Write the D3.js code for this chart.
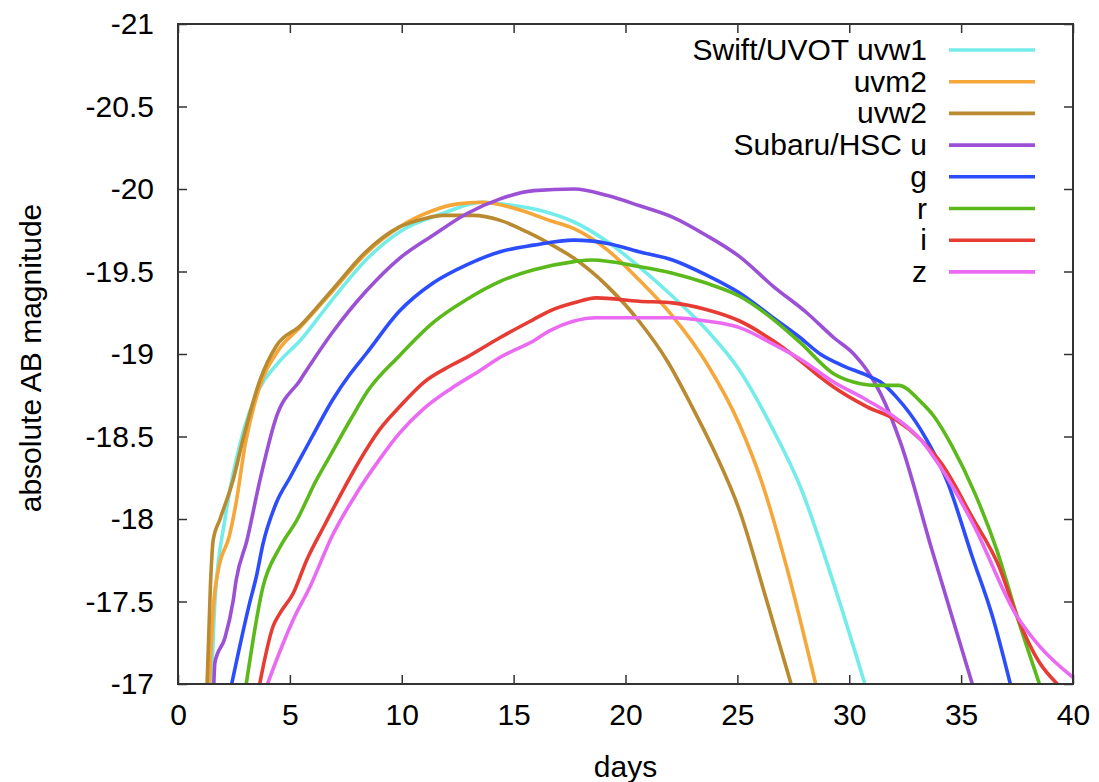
<!DOCTYPE html>
<html>
<head>
<meta charset="utf-8">
<script src="https://cdn.jsdelivr.net/npm/d3@7"></script>
<style>
  body { margin: 0; background: #fff; }
  svg { font-family: 'Liberation Sans', Arial, sans-serif; }
</style>
</head>
<body>
<script>
// light curves, [day, absolute AB magnitude]
const uvw1 = [[1.5,-17.0],[1.65,-17.5],[2.1,-18.0],[2.86,-18.5],[3.6,-18.78],[4.5,-18.95],[5.45,-19.08],[6.9,-19.33],[8.4,-19.57],[9.9,-19.74],[11.8,-19.85],[13.6,-19.92],[15.0,-19.9],[16.2,-19.87],[17.7,-19.8],[19.2,-19.68],[20.6,-19.53],[22.1,-19.35],[23.6,-19.15],[25.1,-18.9],[26.6,-18.54],[27.8,-18.2],[29.3,-17.61],[30.7,-17.0]]
const uvm2 = [[1.4,-17.0],[1.6,-17.5],[1.8,-17.69],[2.3,-17.9],[2.6,-18.1],[3.0,-18.45],[3.6,-18.78],[4.47,-19.02],[5.45,-19.16],[6.9,-19.38],[8.4,-19.61],[9.9,-19.77],[11.4,-19.87],[12.5,-19.91],[13.6,-19.92],[15.1,-19.88],[16.6,-19.81],[17.7,-19.76],[19.2,-19.63],[20.6,-19.45],[22.1,-19.23],[23.6,-18.95],[25.1,-18.57],[26.1,-18.22],[27.2,-17.71],[28.5,-17.0]]
const uvw2 = [[1.3,-17.0],[1.45,-17.6],[1.57,-17.87],[1.88,-18.0],[2.47,-18.24],[2.9,-18.48],[3.66,-18.84],[4.4,-19.05],[5.45,-19.17],[6.9,-19.39],[8.4,-19.62],[9.9,-19.77],[11.0,-19.82],[11.84,-19.84],[13.2,-19.84],[14.4,-19.81],[15.6,-19.74],[16.6,-19.67],[17.7,-19.58],[19.2,-19.41],[20.6,-19.2],[21.9,-18.95],[22.9,-18.7],[23.9,-18.43],[25.1,-18.05],[26.3,-17.51],[27.4,-17.0]]
const hscU = [[1.6,-17.0],[1.65,-17.13],[2.1,-17.28],[2.46,-17.5],[2.6,-17.63],[3.08,-17.87],[3.67,-18.24],[4.4,-18.62],[5.45,-18.84],[6.9,-19.13],[8.4,-19.38],[9.9,-19.58],[11.4,-19.72],[12.9,-19.85],[14.4,-19.94],[15.9,-19.99],[17.7,-20.0],[19.2,-19.96],[20.6,-19.9],[22.1,-19.83],[23.6,-19.72],[25.1,-19.59],[26.6,-19.41],[28.1,-19.25],[29.3,-19.1],[30.2,-19.0],[30.8,-18.9],[31.4,-18.76],[32.3,-18.46],[33.7,-17.81],[35.5,-17.0]]
const hscG = [[2.4,-17.0],[3.2,-17.49],[3.5,-17.65],[3.8,-17.85],[4.4,-18.1],[5.0,-18.25],[6.0,-18.5],[6.9,-18.72],[7.7,-18.88],[8.4,-19.0],[9.9,-19.26],[11.4,-19.43],[12.9,-19.54],[14.4,-19.62],[15.9,-19.66],[17.7,-19.69],[19.2,-19.67],[20.6,-19.62],[22.1,-19.57],[23.6,-19.48],[25.1,-19.37],[26.6,-19.22],[27.8,-19.1],[28.7,-19.0],[29.7,-18.93],[30.8,-18.87],[31.4,-18.83],[32.1,-18.74],[33.2,-18.54],[34.4,-18.22],[35.5,-17.77],[36.4,-17.41],[37.2,-17.0]]
const hscR = [[3.05,-17.0],[3.8,-17.59],[4.56,-17.83],[5.3,-17.99],[6.2,-18.24],[6.7,-18.36],[7.7,-18.6],[8.5,-18.78],[9.9,-18.99],[11.4,-19.19],[12.9,-19.33],[14.4,-19.44],[15.9,-19.51],[17.7,-19.56],[18.5,-19.57],[20.6,-19.53],[22.1,-19.49],[23.6,-19.43],[25.1,-19.35],[26.6,-19.21],[27.8,-19.07],[29.3,-18.88],[30.5,-18.82],[31.2,-18.81],[32.2,-18.81],[33.2,-18.71],[33.8,-18.62],[34.6,-18.44],[35.6,-18.16],[36.6,-17.81],[37.5,-17.41],[38.5,-17.0]]
const hscI = [[3.65,-17.0],[4.25,-17.35],[4.56,-17.43],[5.15,-17.55],[5.75,-17.75],[6.5,-17.95],[7.2,-18.13],[8.1,-18.35],[9.0,-18.54],[9.9,-18.68],[11.0,-18.83],[12.2,-18.93],[12.9,-18.98],[14.4,-19.1],[15.9,-19.21],[16.6,-19.26],[17.7,-19.31],[18.7,-19.34],[20.6,-19.32],[22.1,-19.31],[23.6,-19.27],[25.1,-19.2],[26.6,-19.08],[27.8,-18.96],[28.7,-18.86],[29.3,-18.8],[30.8,-18.68],[32.1,-18.6],[33.2,-18.48],[34.1,-18.34],[35.5,-18.01],[36.7,-17.71],[37.5,-17.41],[38.5,-17.13],[39.3,-17.0]]
const hscZ = [[4.0,-17.0],[4.56,-17.2],[5.15,-17.39],[5.9,-17.59],[6.9,-17.9],[8.0,-18.16],[9.0,-18.36],[9.9,-18.52],[11.0,-18.67],[12.2,-18.79],[13.5,-18.9],[14.4,-18.98],[15.9,-19.08],[16.6,-19.14],[17.7,-19.2],[18.7,-19.22],[20.6,-19.22],[22.1,-19.22],[23.6,-19.2],[25.1,-19.16],[26.6,-19.06],[27.8,-18.97],[29.3,-18.83],[30.8,-18.72],[32.1,-18.61],[33.2,-18.48],[34.1,-18.31],[35.5,-17.98],[37.5,-17.41],[38.5,-17.23],[40.0,-17.04]]

const labels = ['Swift/UVOT uvw1', 'uvm2', 'uvw2', 'Subaru/HSC u', 'g', 'r', 'i', 'z']
const colors = ['#74ecea', '#f5a73a', '#b98a2f', '#9b50d6', '#2b4dfc', '#5cb91c', '#e63c33', '#ea6af2']
const curves = [uvw1, uvm2, uvw2, hscU, hscG, hscR, hscI, hscZ]
const xTicks = d3.range(0, 41, 5)
const yTicks = d3.range(-21, -16.9, 0.5)

const width = 1099, height = 782
const m = { left: 178, right: 1073, top: 24, bottom: 684 }
const fontSize = '30px'

const x = d3.scaleLinear().domain([0, 40]).range([m.left, m.right])
const y = d3.scaleLinear().domain([-17, -21]).range([m.bottom, m.top])

const svg = d3.select('body').append('svg')
  .attr('width', width)
  .attr('height', height)

svg.append('clipPath').attr('id', 'clip')
  .append('rect')
  .attr('x', m.left).attr('y', m.top)
  .attr('width', m.right - m.left).attr('height', m.bottom - m.top)

const line = d3.line()
  .x(d => x(d[0]))
  .y(d => y(d[1]))
  .curve(d3.curveMonotoneX)

svg.append('g')
  .attr('clip-path', 'url(#clip)')
  .selectAll('path').data(curves).enter()
  .append('path')
  .attr('d', line)
  .attr('fill', 'none')
  .attr('stroke', (d, i) => colors[i])
  .attr('stroke-width', 3.6)
  .attr('stroke-linejoin', 'round')

// axes, ticks inward on all four sides
const tickLen = 9
const axisStyle = g => {
  g.select('.domain').remove()
  g.selectAll('.tick line').attr('stroke', '#333').attr('stroke-width', 1.5)
  g.selectAll('.tick text').attr('fill', '#000').style('font-size', fontSize)
    .style('font-family', "'Liberation Sans', Arial, sans-serif")
}
const plain = d => String(+d.toFixed(1))

svg.append('g')
  .attr('transform', `translate(0,${m.bottom})`)
  .call(d3.axisBottom(x).tickValues(xTicks).tickSize(-tickLen).tickPadding(20).tickFormat(plain))
  .call(axisStyle)

svg.append('g')
  .attr('transform', `translate(0,${m.top})`)
  .call(d3.axisTop(x).tickValues(xTicks).tickSize(-tickLen).tickFormat(''))
  .call(axisStyle)

svg.append('g')
  .attr('transform', `translate(${m.left},0)`)
  .call(d3.axisLeft(y).tickValues(yTicks).tickSize(-tickLen).tickPadding(24).tickFormat(plain))
  .call(axisStyle)

svg.append('g')
  .attr('transform', `translate(${m.right},0)`)
  .call(d3.axisRight(y).tickValues(yTicks).tickSize(-tickLen).tickFormat(''))
  .call(axisStyle)

svg.append('rect')
  .attr('x', m.left).attr('y', m.top)
  .attr('width', m.right - m.left).attr('height', m.bottom - m.top)
  .attr('fill', 'none')
  .attr('stroke', '#333')
  .attr('stroke-width', 2)

// legend
const legend = svg.append('g')
  .selectAll('g').data(labels).enter()
  .append('g')
  .attr('transform', (d, i) => `translate(0,${50 + i * 31.7})`)

legend.append('text')
  .attr('x', 927)
  .attr('y', 10)
  .attr('text-anchor', 'end')
  .style('font-size', fontSize)
  .text(d => d)

legend.append('line')
  .attr('x1', 949).attr('x2', 1035)
  .attr('stroke', (d, i) => colors[i])
  .attr('stroke-width', 3.6)

// axis titles
svg.append('text')
  .attr('x', (m.left + m.right) / 2)
  .attr('y', 777)
  .attr('text-anchor', 'middle')
  .style('font-size', fontSize)
  .text('days')

svg.append('text')
  .attr('transform', `translate(41,${(m.top + m.bottom) / 2 + 4}) rotate(-90)`)
  .attr('text-anchor', 'middle')
  .style('font-size', fontSize)
  .text('absolute AB magnitude')
</script>
</body>
</html>
